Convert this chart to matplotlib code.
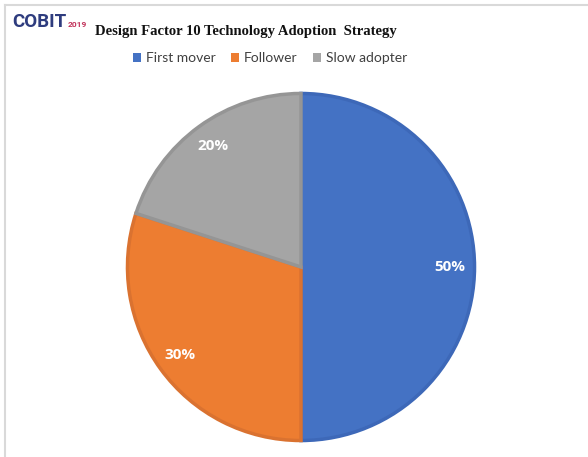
import matplotlib
matplotlib.use("Agg")
import matplotlib.pyplot as plt
from matplotlib.lines import Line2D
from matplotlib.patches import Patch

categories = ["First mover", "Follower", "Slow adopter"]
shares = [50, 30, 20]
fill_colors = ["#4472C4", "#ED7D31", "#A5A5A5"]
edge_colors = ["#3D68B8", "#DA7230", "#959595"]

W, H = 588, 457
fig = plt.figure(figsize=(W / 100, H / 100), dpi=100)
fig.patch.set_facecolor("white")

# thin frame along the top and left edges
fig.add_artist(Line2D([5 / W, 1.0], [1 - 5 / H, 1 - 5 / H], color="#d9d9d9", lw=1.5))
fig.add_artist(Line2D([5 / W, 5 / W], [0, 1 - 5 / H], color="#d9d9d9", lw=1.5))

# logo
logo = fig.text(12 / W, 1 - 27 / H, "COBIT", fontsize=13.5, fontweight="bold", color="#2E3C7E",
                family="Roboto", va="baseline", ha="left")
fig.canvas.draw()
bb = logo.get_window_extent(renderer=fig.canvas.get_renderer())
fig.text(bb.x1 / W + 1 / W, 1 - 27 / H, "2019", fontsize=6, fontweight="bold",
         color="#C1325A", family="Roboto", va="baseline", ha="left")

# title
fig.text(246 / W, 1 - 31 / H, "Design Factor 10 Technology Adoption  Strategy",
         fontsize=10.5, fontweight="bold", family="Liberation Serif",
         color="#111111", ha="center", va="center")

# pie
cx, cy, r = 301, 267, 177
ax = fig.add_axes([(cx - r) / W, (H - cy - r) / H, 2 * r / W, 2 * r / H])
wedges, _, autotexts = ax.pie(
    shares, colors=fill_colors, startangle=90, counterclock=False,
    autopct=lambda p: f"{p:.0f}%", pctdistance=0.86, radius=1.0,
    wedgeprops=dict(linewidth=2.5),
    textprops=dict(color="white", fontsize=11, fontweight="bold", family="Open Sans"),
)
for w, ec in zip(wedges, edge_colors):
    w.set_edgecolor(ec)
ax.set_xlim(-1.02, 1.02)
ax.set_ylim(-1.02, 1.02)
ax.set_aspect("equal")
ax.axis("off")

# legend
handles = [Patch(facecolor=c, edgecolor="none") for c in fill_colors]
fig.legend(handles, categories, loc="center", bbox_to_anchor=(270 / W, 1 - 58 / H),
           ncol=3, frameon=False, handlelength=0.6, handleheight=0.6,
           handletextpad=0.35, columnspacing=1.1,
           prop=dict(family="Lato", size=10), labelcolor="#404040")

fig.savefig("out.png", dpi=100, facecolor="white")
